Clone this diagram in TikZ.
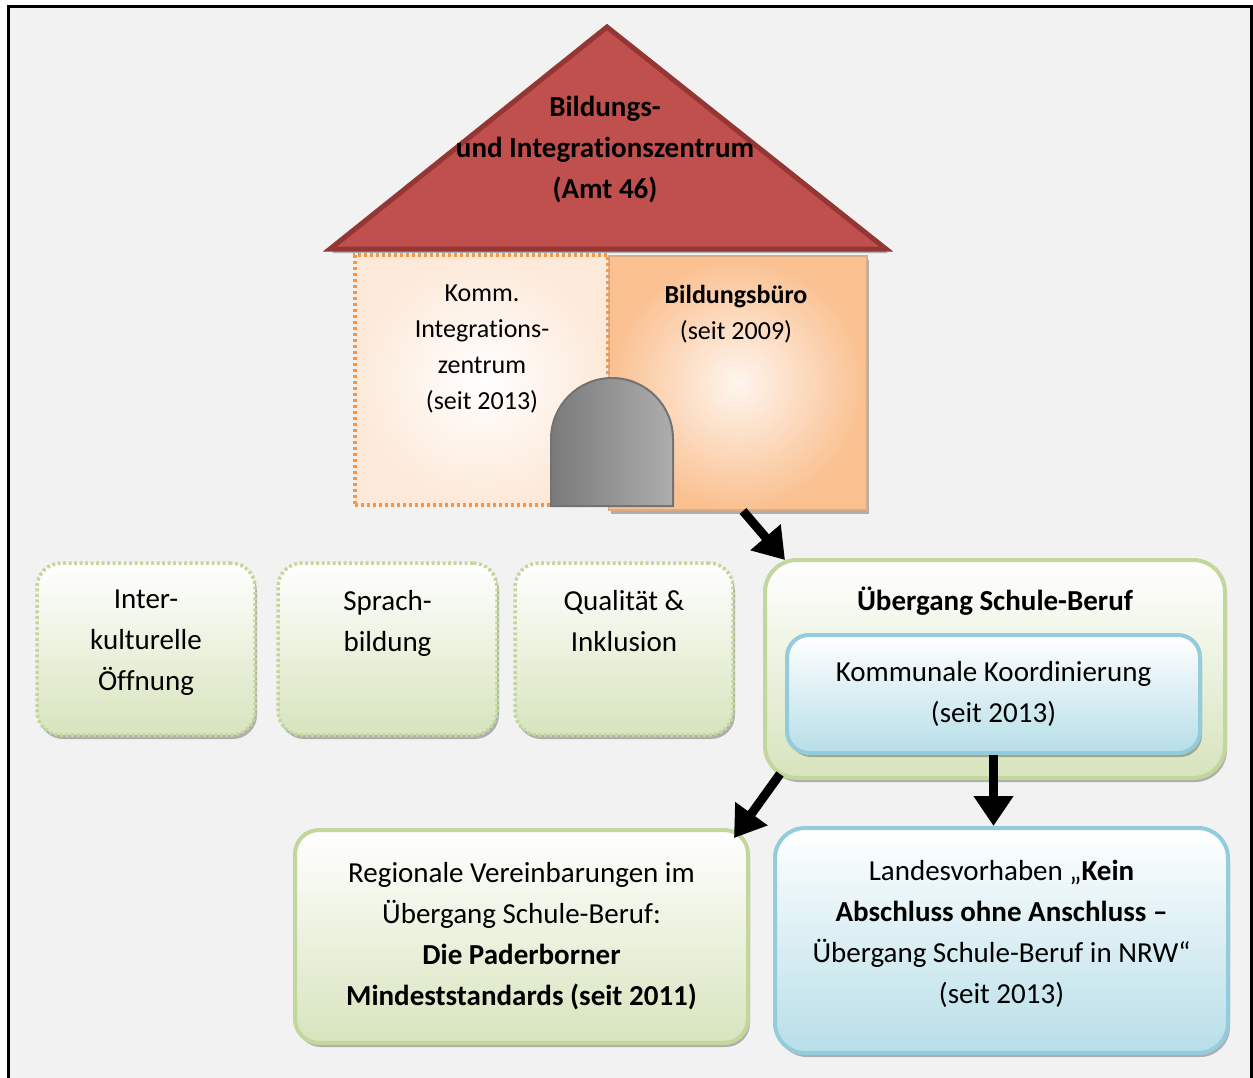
\documentclass[tikz,border=0pt]{standalone}
\usepackage{fontspec}
\setmainfont{Carlito}[Ligatures=NoCommon]
\usetikzlibrary{arrows.meta,positioning,calc,shadows}
\definecolor{bgGray}{HTML}{F2F2F2}
\definecolor{roofRed}{HTML}{C0504D}
\definecolor{roofLine}{HTML}{943634}
\definecolor{houseOrange}{HTML}{F79646}
\definecolor{housePeach}{HTML}{FAC090}
\definecolor{houseLight}{HTML}{FDE9D9}
\definecolor{boxGreen}{HTML}{D7E4BD}
\definecolor{lineGreen}{HTML}{C3D69B}
\definecolor{boxBlue}{HTML}{B7DEE8}
\definecolor{lineBlue}{HTML}{93CDDD}
\newcommand\housefont{\fontsize{26}{36}\selectfont}
\newcommand\boxfont{\fontsize{29}{41}\selectfont}
\newcommand\rooffont{\fontsize{29}{41}\selectfont\bfseries}

\tikzset{
  softshadow/.style={drop shadow={shadow xshift=2pt,shadow yshift=-4pt,fill=black,opacity=0.28}},
  greenbox/.style={draw=lineGreen,line width=4pt,rounded corners=24pt,
                   top color=white,bottom color=boxGreen,softshadow,
                   align=center,font=\boxfont,inner sep=0pt},
  bluebox/.style={draw=lineBlue,line width=4pt,rounded corners=24pt,
                  top color=white,bottom color=boxBlue,softshadow,
                  align=center,font=\boxfont,inner sep=0pt},
  dotbox/.style={greenbox,line width=3.5pt,dash pattern=on 3pt off 2.5pt},
  wall/.style={inner sep=0pt,shading=radial},
  housetext/.style={font=\housefont,align=center,inner sep=0pt,anchor=north},
  arrow/.style={line width=9pt,-{Triangle[length=30pt,width=38pt]}}
}

\begin{document}
\begin{tikzpicture}[x=1pt,y=1pt]
  \useasboundingbox (0,0) rectangle (1253,-1077);
  \fill[white] (0,0) rectangle (1253,-1077);
  \draw[line width=3pt,fill=bgGray] (8,-6) rectangle (1251,-1090);

  % house
  \draw[roofLine,line width=5pt,fill=roofRed,softshadow,line join=miter]
    (330,-249) -- (607,-27) -- (886,-249) -- cycle;
  \node[font=\rooffont,align=center] (amt) at (605,-150)
    {Bildungs-\\und Integrationszentrum\\(Amt 46)};

  \node[wall,inner color=housePeach!15,outer color=housePeach,
        draw=housePeach!85!black!90,line width=2pt,
        softshadow,minimum width=258pt,minimum height=254pt] (bb) at (738,-383) {};
  \node[wall,inner color=white,outer color=houseLight,draw=houseOrange,line width=3.5pt,
        dash pattern=on 3pt off 3pt,minimum width=253pt,minimum height=250pt]
        (kiz) at (481.5,-380) {};
  \node[housetext] (kiz-t) at (482,-285) {Komm.\\Integrations-\\zentrum\\(seit 2013)};
  \node[housetext] (bb-t) at (736,-285) {\textbf{Bildungsbüro}\\(seit 2009)};

  \draw[black!55,line width=2pt,left color=black!52,middle color=black!18,right color=black!32]
    (551,-506) -- (551,-439) arc[start angle=180,end angle=0,radius=61pt]
    -- (673,-506) -- cycle;

  % fields
  \node[dotbox,minimum width=218pt,minimum height=172pt] (io) at (146,-649) {};
  \node[dotbox,minimum width=219pt,minimum height=172pt] (sb-lang) at (387.5,-649) {};
  \node[dotbox,minimum width=218pt,minimum height=172pt] (qi) at (624,-649) {};
  \node[housetext,font=\boxfont] (io-t) at (io.north |- 0,-590) {Inter-\\kulturelle\\Öffnung};
  \node[housetext,font=\boxfont] (sl-t) at (sb-lang.north |- 0,-590) {Sprach-\\bildung};
  \node[housetext,font=\boxfont] (qi-t) at (qi.north |- 0,-590) {Qualität \&\\Inklusion};

  \node[greenbox,rounded corners=32pt,minimum width=460pt,minimum height=218pt]
    (usb) at (995,-669) {};
  \node[font=\boxfont\bfseries,anchor=base] (usb-t) at (995,-610) {Übergang Schule-Beruf};
  \node[bluebox,rounded corners=22pt,minimum width=413pt,minimum height=118pt]
    (kk) at (993.5,-694) {Kommunale Koordinierung\\(seit 2013)};

  \node[greenbox,minimum width=453pt,minimum height=213pt] (reg) at (521.5,-936.5)
    {Regionale Vereinbarungen im\\Übergang Schule-Beruf:\\
     \textbf{Die Paderborner}\\\textbf{Mindeststandards (seit 2011)}};
  \node[bluebox,rounded corners=30pt,minimum width=453pt,minimum height=225pt]
    (land) at (1001.5,-940.5)
    {Landesvorhaben „\textbf{Kein}\\\textbf{Abschluss ohne Anschluss –}\\
     Übergang Schule-Beruf in NRW“\\(seit 2013)\\[-23pt]};

  % connectors
  \draw[arrow] ($(bb.south)+(5,0)$) -- ($(usb.north west)+(22,-2)$);
  \draw[arrow] ($(usb.south west)+(17,6)$) -- ($(reg.north east)+(-16,-10)$);
  \draw[arrow] (kk.south) -- (kk.south |- land.north);
\end{tikzpicture}
\end{document}
